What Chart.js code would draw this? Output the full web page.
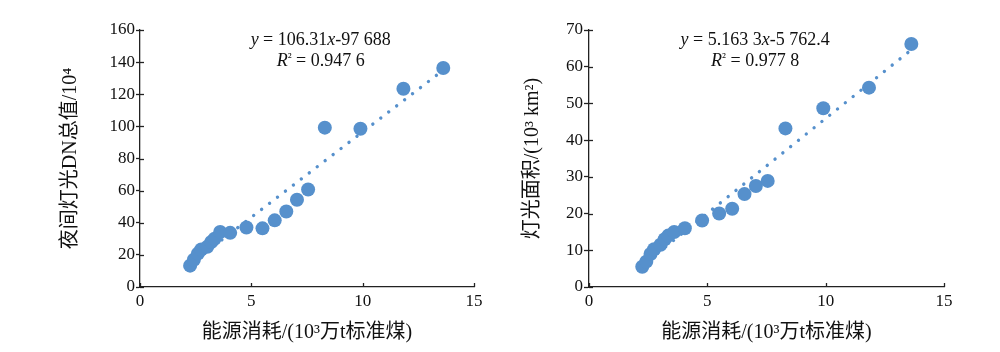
<!DOCTYPE html>
<html>
<head>
<meta charset="utf-8">
<script src="https://cdn.jsdelivr.net/npm/chart.js@4.4.1/dist/chart.umd.min.js"></script>
<style>
  html, body { margin: 0; padding: 0; background: #ffffff; }
  #wrap { position: relative; width: 1000px; height: 352px; overflow: hidden; }
  canvas { position: absolute; top: 0; }
  #c1 { left: 0; }
  #c2 { left: 500px; }
</style>
</head>
<body>
<div id="wrap">
  <canvas id="c1" width="500" height="352"></canvas>
  <canvas id="c2" width="500" height="352"></canvas>
</div>
<script>
// ---- data ----
const energy = [2.25, 2.42, 2.6, 2.75, 3.02, 3.2, 3.35, 3.6, 4.05, 4.78, 5.5, 6.05, 6.57, 7.05, 7.55, 8.3, 9.9, 11.83, 13.62];
const lightDN = [13.3, 17.0, 20.8, 23.3, 25.0, 28.0, 30.0, 34.2, 33.7, 37.0, 36.5, 41.5, 47.0, 54.3, 60.7, 99.2, 98.5, 123.4, 136.3];
const lightArea = [5.5, 6.9, 9.0, 10.3, 11.5, 13.0, 14.0, 15.0, 16.0, 18.1, 20.0, 21.3, 25.3, 27.5, 28.9, 43.2, 48.7, 54.3, 66.2];
const trendX = [2.25, 13.62];
const trendDN = [14.2, 135.0];
const trendArea = [5.85, 64.6];
const xTicks = [0, 5, 10, 15];
const yTicksDN = [0, 20, 40, 60, 80, 100, 120, 140, 160];
const yTicksArea = [0, 10, 20, 30, 40, 50, 60, 70];
const xTitle = '能源消耗/(10³万t标准煤)';
const yTitleDN = '夜间灯光DN总值/10⁴';
const yTitleArea = '灯光面积/(10³ km²)';
const eqDN = [['y', true], [' = 106.31', false], ['x', true], ['-97 688', false]];
const r2DN = [['R', true], ['²', false], [' = 0.947 6', false]];
const eqArea = [['y', true], [' = 5.163 3', false], ['x', true], ['-5 762.4', false]];
const r2Area = [['R', true], ['²', false], [' = 0.977 8', false]];

const BLUE = '#5690cc';
const AXIS = '#222222';
const SERIF = '"Liberation Serif", "Times New Roman", serif';
const MIXED = '"Liberation Serif", "Noto Sans CJK SC", serif';

function pts(xs, ys) { return xs.map((x, i) => ({ x: x, y: ys[i] })); }

const innerTicks = {
  id: 'innerTicks',
  afterDraw(chart) {
    const ctx = chart.ctx;
    const xs = chart.scales.x, ys = chart.scales.y;
    ctx.save();
    ctx.strokeStyle = AXIS;
    ctx.lineWidth = 1.3;
    xs.ticks.forEach(t => {
      const px = Math.round(xs.getPixelForValue(t.value)) + 0.5;
      ctx.beginPath(); ctx.moveTo(px, xs.top); ctx.lineTo(px, xs.top - 4); ctx.stroke();
    });
    ys.ticks.forEach(t => {
      const py = Math.round(ys.getPixelForValue(t.value)) + 0.5;
      ctx.beginPath(); ctx.moveTo(ys.right, py); ctx.lineTo(ys.right + 4, py); ctx.stroke();
    });
    ctx.restore();
  }
};

const equation = {
  id: 'equation',
  afterDraw(chart, args, opts) {
    const ctx = chart.ctx;
    const area = chart.chartArea;
    const cx = area.left + (area.right - area.left) * opts.fx;
    ctx.save();
    ctx.fillStyle = '#111';
    ctx.textBaseline = 'middle';
    ctx.textAlign = 'left';
    opts.lines.forEach((line, li) => {
      const y = opts.ys[li];
      const fonts = line.map(p => (p[1] ? 'italic ' : '') + (p[0] === '²' ? '13px ' : '18px ') + SERIF);
      let w = 0;
      line.forEach((p, i) => { ctx.font = fonts[i]; w += ctx.measureText(p[0]).width; });
      let x = cx - w / 2;
      line.forEach((p, i) => {
        ctx.font = fonts[i];
        ctx.fillText(p[0], x, p[0] === '²' ? y - 4 : y);
        x += ctx.measureText(p[0]).width;
      });
    });
    ctx.restore();
  }
};

function makeChart(id, ys, trendY, yMax, yStep, yTicks, yTitle, yAxisW, yTitlePad, padRight, eqLines, fx, tickLen) {
  return new Chart(document.getElementById(id), {
    type: 'scatter',
    data: {
      datasets: [
        {
          data: pts(energy, ys),
          backgroundColor: BLUE,
          borderWidth: 0,
          pointRadius: 7,
          pointHoverRadius: 7
        },
        {
          type: 'line',
          data: pts(trendX, trendY),
          borderColor: BLUE,
          borderWidth: 3.4,
          borderDash: [0.01, 10],
          borderCapStyle: 'round',
          pointRadius: 0,
          fill: false,
          tension: 0
        }
      ]
    },
    options: {
      responsive: false,
      devicePixelRatio: 1,
      animation: false,
      events: [],
      layout: { padding: { left: 0, right: padRight, top: 30, bottom: 0 } },
      plugins: {
        legend: { display: false },
        tooltip: { enabled: false },
        equation: { lines: eqLines, fx: fx, ys: [40.7, 61.7] }
      },
      scales: {
        x: {
          type: 'linear',
          min: 0, max: 15,
          afterFit(s) { s.height = 65; },
          afterBuildTicks(s) { s.ticks = xTicks.map(v => ({ value: v })); },
          border: { display: true, color: AXIS, width: 1.3 },
          grid: { display: true, drawOnChartArea: false, drawTicks: false },
          ticks: { color: '#111', font: { family: SERIF, size: 17 }, padding: 4, maxRotation: 0 },
          title: {
            display: true, text: xTitle, color: '#111',
            font: { family: MIXED, size: 20 }, padding: { top: 0, bottom: 7 }
          }
        },
        y: {
          type: 'linear',
          min: 0, max: yMax,
          afterFit(s) { s.width = yAxisW; },
          afterBuildTicks(s) { s.ticks = yTicks.map(v => ({ value: v })); },
          border: { display: true, color: AXIS, width: 1.3 },
          grid: { display: true, drawOnChartArea: false, drawTicks: true, tickLength: tickLen, tickColor: AXIS, tickWidth: 1.3 },
          ticks: { color: '#111', font: { family: SERIF, size: 17 }, padding: 1, stepSize: yStep },
          title: {
            display: true, text: yTitle, color: '#111',
            font: { family: MIXED, size: 20 }, padding: { top: yTitlePad, bottom: 0 }
          }
        }
      }
    },
    plugins: [innerTicks, equation]
  });
}

makeChart('c1', lightDN, trendDN, 160, 20, yTicksDN, yTitleDN, 140, 59, 26, [eqDN, r2DN], 0.541, 4);
makeChart('c2', lightArea, trendArea, 70, 10, yTicksArea, yTitleArea, 89, 21, 56, [eqArea, r2Area], 0.468, 5);
</script>
</body>
</html>
